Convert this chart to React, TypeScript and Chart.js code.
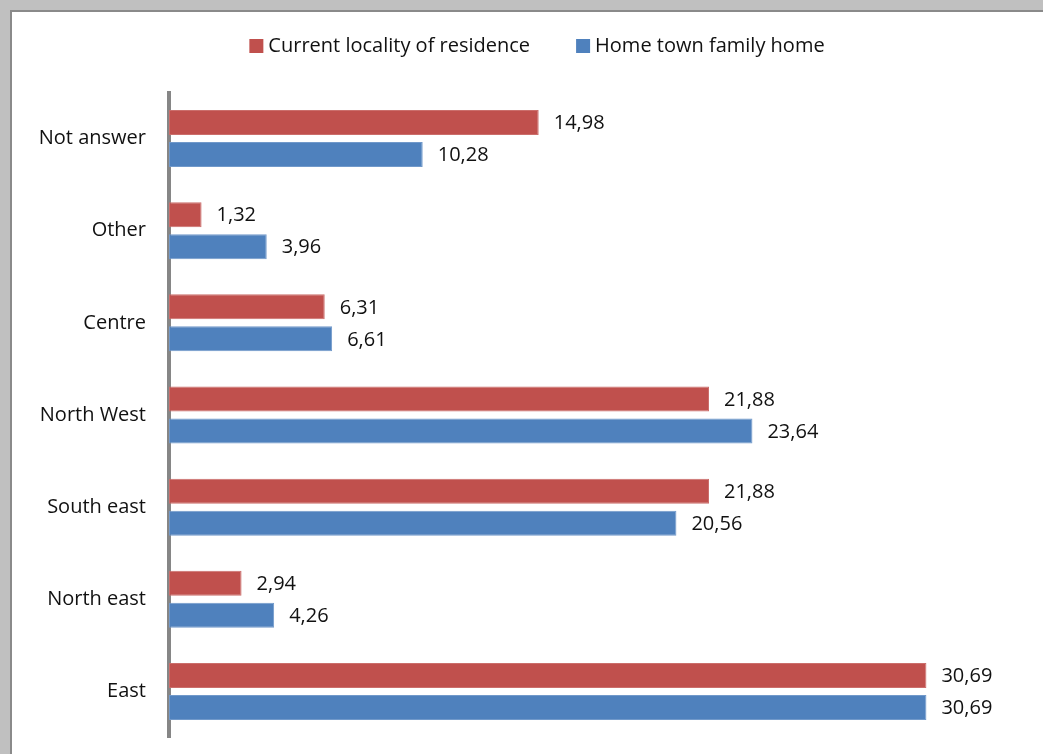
import React, { useEffect, useRef } from "react";
import { Chart, registerables } from "chart.js";

Chart.register(...registerables);

// Regions, top to bottom
const regions = ["Not answer", "Other", "Centre", "North West", "South east", "North east", "East"];

// Share of respondents (%) per region
const currentResidence = [14.98, 1.32, 6.31, 21.88, 21.88, 2.94, 30.69];
const homeTownFamily = [10.28, 3.96, 6.61, 23.64, 20.56, 4.26, 30.69];

const seriesNames = ["Current locality of residence", "Home town family home"];

const FONT = "'Open Sans', 'Noto Sans', sans-serif";
const RED = "#C0504D";
const BLUE = "#4F81BD";

const fmt = (v: number) => v.toFixed(2).replace(".", ",");

// Value labels just past the end of each bar
const valueLabels = {
  id: "valueLabels",
  afterDatasetsDraw(chart: any) {
    const ctx = chart.ctx;
    ctx.save();
    ctx.font = `20px ${FONT}`;
    ctx.fillStyle = "#111";
    ctx.textAlign = "left";
    ctx.textBaseline = "middle";
    chart.data.datasets.forEach((ds: any, di: number) => {
      const meta = chart.getDatasetMeta(di);
      meta.data.forEach((bar: any, i: number) => {
        ctx.fillText(fmt(ds.data[i]), bar.x + 15, bar.y + 1);
      });
    });
    ctx.restore();
  },
};

// Legend row centred above the plot
const topLegend = {
  id: "topLegend",
  afterDraw(chart: any) {
    const ctx = chart.ctx;
    ctx.save();
    ctx.font = `20px ${FONT}`;
    ctx.textBaseline = "middle";
    ctx.textAlign = "left";
    const box = 14;
    const gapBoxText = 5;
    const gapItems = 46;
    const items = chart.data.datasets.map((ds: any) => ({
      label: ds.label,
      color: ds.backgroundColor,
      w: box + gapBoxText + ctx.measureText(ds.label).width,
    }));
    const total = items.reduce((s: number, it: any) => s + it.w, 0) + gapItems * (items.length - 1);
    let x = chart.width / 2 - total / 2;
    const cy = 34;
    items.forEach((it: any) => {
      ctx.fillStyle = it.color;
      ctx.fillRect(x, cy - box / 2, box, box);
      ctx.fillStyle = "#111";
      ctx.fillText(it.label, x + box + gapBoxText, cy);
      x += it.w + gapItems;
    });
    ctx.restore();
  },
};

export default function App() {
  const canvasRef = useRef<HTMLCanvasElement | null>(null);

  useEffect(() => {
    if (!canvasRef.current) return;
    const chart = new Chart(canvasRef.current, {
      type: "bar",
      data: {
        labels: regions,
        datasets: [
          {
            label: seriesNames[0],
            data: currentResidence,
            backgroundColor: RED,
            borderColor: "#CB6E6B",
            borderWidth: 1,
            borderSkipped: false,
            categoryPercentage: 0.6946,
            barPercentage: 0.781,
          },
          {
            label: seriesNames[1],
            data: homeTownFamily,
            backgroundColor: BLUE,
            borderColor: "#7199CA",
            borderWidth: 1,
            borderSkipped: false,
            categoryPercentage: 0.6946,
            barPercentage: 0.781,
          },
        ],
      },
      options: {
        indexAxis: "y",
        responsive: false,
        animation: false,
        layout: { padding: { top: 80.5, bottom: 16.5, left: 0, right: 29.2 } },
        plugins: {
          legend: { display: false },
          tooltip: { enabled: false },
          title: { display: false },
        },
        scales: {
          x: {
            display: false,
            min: 0,
            max: 35,
          },
          y: {
            z: 1,
            afterFit: (s: any) => {
              s.width = 157;
              s.paddingTop = 0;
              s.paddingBottom = 0;
            },
            grid: { display: false, drawTicks: false },
            border: { display: true, color: "#868686", width: 4 },
            ticks: {
              color: "#111",
              padding: 23,
              font: { family: FONT, size: 20 },
            },
          },
        },
      },
      plugins: [valueLabels, topLegend],
    });
    return () => chart.destroy();
  }, []);

  return (
    <div
      style={{
        position: "fixed",
        inset: 0,
        overflow: "hidden",
        background: "#c0c0c0",
      }}
    >
      <div
        style={{
          position: "absolute",
          left: 10,
          top: 10,
          width: 1100,
          height: 800,
          background: "#fff",
          borderLeft: "2px solid #8a8a8a",
          borderTop: "2px solid #8a8a8a",
        }}
      >
        <canvas
          ref={canvasRef}
          width={1050}
          height={742}
          style={{ display: "block", width: 1050, height: 742 }}
        />
      </div>
    </div>
  );
}
